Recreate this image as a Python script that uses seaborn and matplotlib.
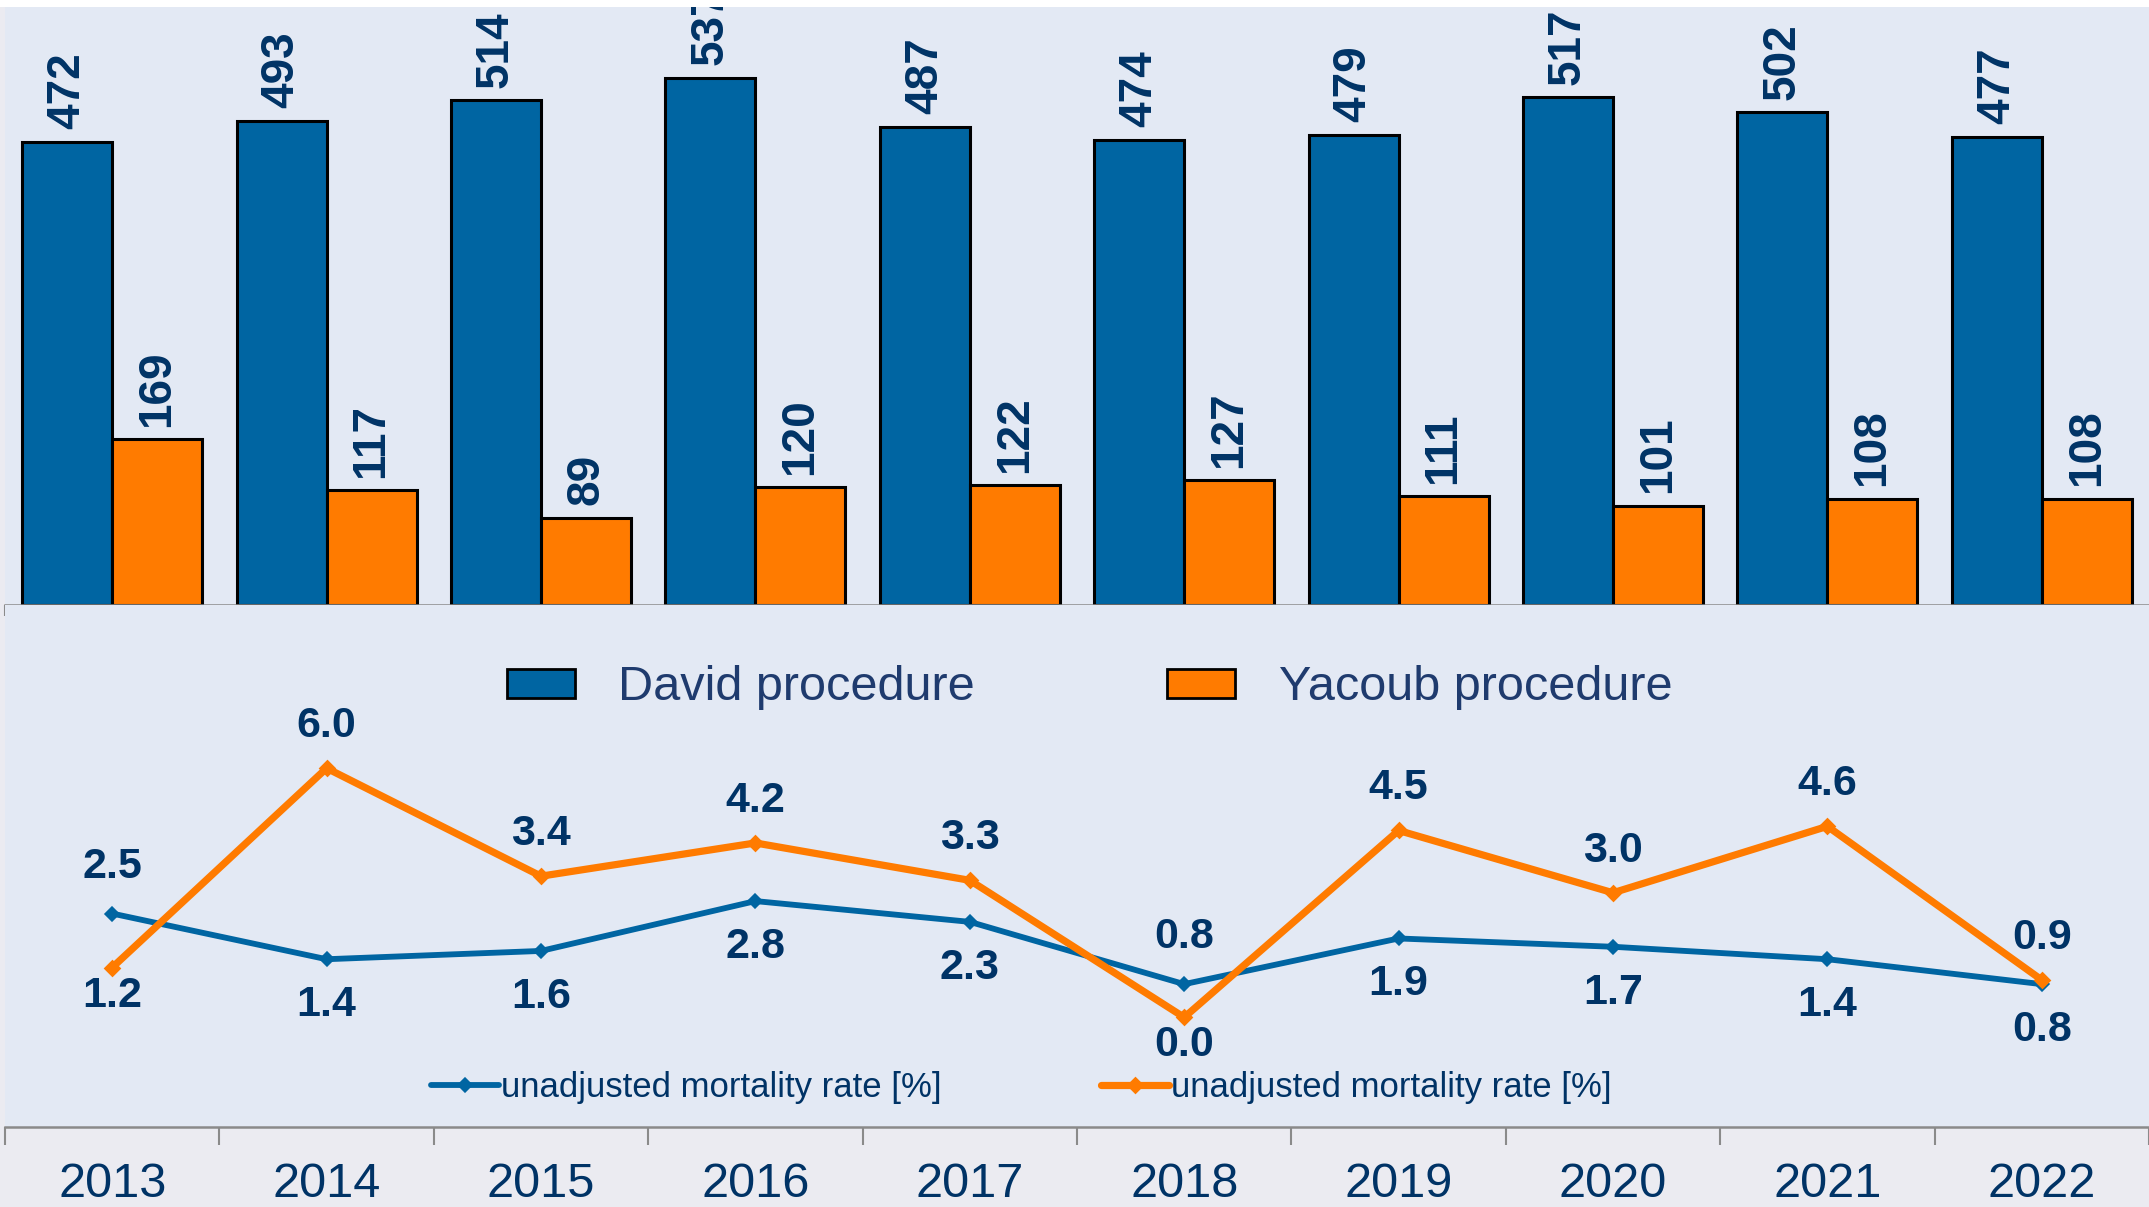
import numpy as np
import pandas as pd
import matplotlib.pyplot as plt
import seaborn as sns
from matplotlib.patches import Patch, Rectangle

sns.set_theme(style="white")
plt.rcParams['font.family'] = ['Liberation Sans', 'DejaVu Sans']

# data
years = ['2013', '2014', '2015', '2016', '2017', '2018', '2019', '2020', '2021', '2022']
david_counts = [472, 493, 514, 537, 487, 474, 479, 517, 502, 477]
yacoub_counts = [169, 117, 89, 120, 122, 127, 111, 101, 108, 108]
david_rates = [2.5, 1.4, 1.6, 2.8, 2.3, 0.8, 1.9, 1.7, 1.4, 0.8]
yacoub_rates = [1.2, 6.0, 3.4, 4.2, 3.3, 0.0, 4.5, 3.0, 4.6, 0.9]
procedures = ['David procedure', 'Yacoub procedure']
rate_label = 'unadjusted mortality rate [%]'
# where each rate label sits relative to its point
david_side = ['above', 'below', 'below', 'below', 'below', 'above', 'below', 'below', 'below', 'below']
yacoub_side = ['below', 'above', 'above', 'above', 'above', 'below', 'above', 'above', 'above', 'above']

blue = '#0065a2'
orange = '#ff7b00'
navy = '#003366'
bg = '#e3e9f4'

bars = pd.DataFrame({
    'year': years * 2,
    'count': david_counts + yacoub_counts,
    'procedure': [procedures[0]] * len(years) + [procedures[1]] * len(years),
})
rates = pd.DataFrame({'year': years, 'david': david_rates, 'yacoub': yacoub_rates})

W, H = 2149, 1207
fig = plt.figure(figsize=(W / 100, H / 100), dpi=100)
fig.patch.set_facecolor('#ebebf1')

ax1 = fig.add_axes([5 / W, 1 - 605 / H, 1 - 5 / W, 599 / H])
ax2 = fig.add_axes([5 / W, 1 - 1127 / H, 1 - 5 / W, 522 / H])
for ax in (ax1, ax2):
    ax.set_facecolor(bg)
    for s in ['top', 'right', 'left']:
        ax.spines[s].set_visible(False)
    ax.spines['bottom'].set_color('#8a8a8a')
    ax.spines['bottom'].set_linewidth(1.8)

# --- bars
sns.barplot(data=bars, x='year', y='count', hue='procedure', palette=[blue, orange],
            width=0.84, saturation=1, edgecolor='black', linewidth=2.2, ax=ax1)
if ax1.get_legend() is not None:
    ax1.get_legend().remove()
for cont in ax1.containers:
    ax1.bar_label(cont, rotation=90, padding=9, fontsize=33, fontweight='bold', color=navy)
ax1.set_ylim(0, 610)
ax1.set_xlim(-0.5, len(years) - 0.5)
ax1.set_yticks([])
ax1.set_xticks([])
ax1.set_xticks(np.arange(-0.5, len(years)), minor=True)
ax1.tick_params(axis='x', which='minor', bottom=True, length=8, width=1.5, color='#8a8a8a', direction='out')
ax1.set_xlabel('')
ax1.set_ylabel('')

# --- lines
sns.pointplot(data=rates, x='year', y='david', color=blue, markers='D', markersize=5,
              linewidth=4.2, errorbar=None, ax=ax2, label=rate_label)
sns.pointplot(data=rates, x='year', y='yacoub', color=orange, markers='D', markersize=5,
              linewidth=5.2, errorbar=None, ax=ax2, label=rate_label)

offsets = {('d', 'above'): 47, ('d', 'below'): -46, ('y', 'above'): 42, ('y', 'below'): -28}
for i, (v, side) in enumerate(zip(david_rates, david_side)):
    ax2.annotate(f'{v:.1f}', (i, v), xytext=(0, offsets[('d', side)]), textcoords='offset pixels',
                 ha='center', va='center', fontsize=31, fontweight='bold', color=navy)
for i, (v, side) in enumerate(zip(yacoub_rates, yacoub_side)):
    ax2.annotate(f'{v:.1f}', (i, v), xytext=(0, offsets[('y', side)]), textcoords='offset pixels',
                 ha='center', va='center', fontsize=31, fontweight='bold', color=navy)

ax2.set_ylim(-2.64, 9.93)
ax2.set_xlim(-0.5, len(years) - 0.5)
ax2.set_yticks([])
ax2.set_xticks(range(len(years)))
ax2.set_xticklabels(years)
ax2.set_xticks(np.arange(-0.5, len(years)), minor=True)
ax2.tick_params(axis='x', which='major', length=0, pad=25, labelsize=35, labelcolor=navy)
ax2.tick_params(axis='x', which='minor', bottom=True, length=13, width=1.5, color='#8a8a8a', direction='out')
ax2.set_xlabel('')
ax2.set_ylabel('')

h, l = ax2.get_legend_handles_labels()
ax2.legend(h[:2], l[:2], loc='center', bbox_to_anchor=(0.474, 0.075), ncol=2, frameon=False,
           fontsize=25, labelcolor=navy, handlelength=1.95, handletextpad=0.05, columnspacing=4.6)

bar_handles = [Patch(facecolor=blue, edgecolor='black', linewidth=2),
               Patch(facecolor=orange, edgecolor='black', linewidth=2)]
fig.legend(bar_handles, procedures, loc='center', bbox_to_anchor=(0.507, 1 - 688 / H), ncol=2,
           frameon=False, fontsize=35, labelcolor='#1f3b6e', handlelength=1.4, handleheight=0.56,
           handletextpad=0.9, columnspacing=3.95)

# white strip at the very top
fig.add_artist(Rectangle((0, 1 - 7 / H), 1, 7 / H, transform=fig.transFigure,
                         facecolor='white', edgecolor='none', zorder=10))

fig.savefig('out.png', dpi=100)
